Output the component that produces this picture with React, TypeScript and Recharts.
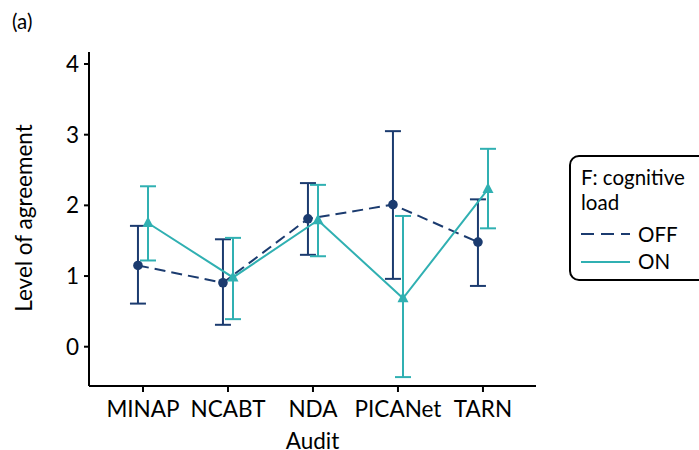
import React from 'react';
import { LineChart, Line, XAxis, YAxis, ErrorBar, Label } from 'recharts';

const audits = ['MINAP', 'NCABT', 'NDA', 'PICANet', 'TARN'];
const offMean = [1.15, 0.905, 1.81, 2.01, 1.48];
const offLow = [0.61, 0.31, 1.3, 0.96, 0.86];
const offHigh = [1.71, 1.52, 2.315, 3.05, 2.085];
const onMean = [1.75, 0.98, 1.79, 0.685, 2.23];
const onLow = [1.22, 0.39, 1.28, -0.43, 1.675];
const onHigh = [2.27, 1.54, 2.29, 1.85, 2.8];
const yTicks = [0, 1, 2, 3, 4];
const xTicks = [1, 2, 3, 4, 5];
const dodge = 0.059;

const NAVY = '#1b3b6f';
const TEAL = '#30b0b2';
const FONT = 'Lato, "Noto Sans", sans-serif';
const FS = 22.5;
const LFS = 20.5;

const offData = audits.map((a, i) => ({
  x: i + 1 - dodge,
  y: offMean[i],
  err: [offMean[i] - offLow[i], offHigh[i] - offMean[i]],
}));
const onData = audits.map((a, i) => ({
  x: i + 1 + dodge,
  y: onMean[i],
  err: [onMean[i] - onLow[i], onHigh[i] - onMean[i]],
}));

const CircleDot = (props: any) => {
  const { cx, cy, index } = props;
  return <circle key={`c${index}`} cx={cx} cy={cy} r={4.8} fill={NAVY} stroke="none" />;
};
const TriDot = (props: any) => {
  const { cx, cy, index } = props;
  return (
    <path
      key={`t${index}`}
      d={`M${cx},${cy - 6.5} L${cx + 5.5},${cy + 4} L${cx - 5.5},${cy + 4} Z`}
      fill={TEAL}
      stroke="none"
    />
  );
};

const LegendBox = () => (
  <svg width={140} height={128} style={{ display: 'block' }}>
    <rect x={1} y={1} width={170} height={124} rx={9} ry={9} fill="#fff" stroke="#000" strokeWidth={2} />
    <text x={12} y={30} fontFamily={FONT} fontSize={LFS} fill="#000">F: cognitive</text>
    <text x={12} y={55} fontFamily={FONT} fontSize={LFS} fill="#000">load</text>
    <line x1={12} x2={61} y1={79} y2={79} stroke={NAVY} strokeWidth={2} strokeDasharray="13 7" />
    <text x={69} y={87} fontFamily={FONT} fontSize={LFS} fill="#000">OFF</text>
    <line x1={12} x2={61} y1={107} y2={107} stroke={TEAL} strokeWidth={2} />
    <text x={69} y={114} fontFamily={FONT} fontSize={LFS} fill="#000">ON</text>
  </svg>
);

export default function App() {
  return (
    <div style={{ position: 'absolute', left: 0, top: 0, width: 699, height: 450, overflow: 'hidden', background: '#fff' }}>
      <div style={{ position: 'absolute', left: 12, top: 6, fontFamily: FONT, fontSize: LFS, color: '#000', lineHeight: '30px' }}>(a)</div>
      <LineChart width={699} height={450} margin={{ top: 52, right: 163, bottom: 24, left: 29 }}>
        <XAxis
          dataKey="x"
          type="number"
          domain={[0.365, 5.624]}
          allowDataOverflow
          ticks={xTicks}
          tickFormatter={(v: number) => audits[Math.round(v) - 1]}
          height={40}
          stroke="#000"
          axisLine={{ stroke: '#000', strokeWidth: 2 }}
          tickLine={{ stroke: '#000', strokeWidth: 2 }}
          tickSize={6}
          tickMargin={9}
          tick={{ fill: '#000', fontSize: FS, fontFamily: FONT }}
          interval={0}
        >
          <Label
            content={() => (
              <text x={312.5} y={449} textAnchor="middle" fontFamily={FONT} fontSize={FS} fill="#000">
                Audit
              </text>
            )}
          />
        </XAxis>
        <YAxis
          type="number"
          domain={[-0.556, 4.17]}
          allowDataOverflow
          ticks={yTicks}
          width={60}
          axisLine={{ stroke: '#000', strokeWidth: 2 }}
          tickLine={{ stroke: '#000', strokeWidth: 2 }}
          tickSize={5}
          tickMargin={5}
          tick={{ fill: '#000', fontSize: FS, fontFamily: FONT }}
        >
          <Label
            content={() => (
              <text
                x={32}
                y={218}
                textAnchor="middle"
                transform="rotate(-90 32 218)"
                fontFamily={FONT}
                fontSize={FS}
                fill="#000"
              >
                Level of agreement
              </text>
            )}
          />
        </YAxis>
        <Line
          data={offData}
          dataKey="y"
          name="OFF"
          type="linear"
          stroke={NAVY}
          strokeWidth={2}
          strokeDasharray="11 6"
          dot={CircleDot}
          activeDot={false}
          isAnimationActive={false}
        >
          <ErrorBar dataKey="err" direction="y" width={8} stroke={NAVY} strokeWidth={2} isAnimationActive={false} />
        </Line>
        <Line
          data={onData}
          dataKey="y"
          name="ON"
          type="linear"
          stroke={TEAL}
          strokeWidth={2}
          dot={TriDot}
          activeDot={false}
          isAnimationActive={false}
        >
          <ErrorBar dataKey="err" direction="y" width={8} stroke={TEAL} strokeWidth={2} isAnimationActive={false} />
        </Line>
      </LineChart>
      <div style={{ position: 'absolute', left: 569, top: 155 }}>
        <LegendBox />
      </div>
    </div>
  );
}
